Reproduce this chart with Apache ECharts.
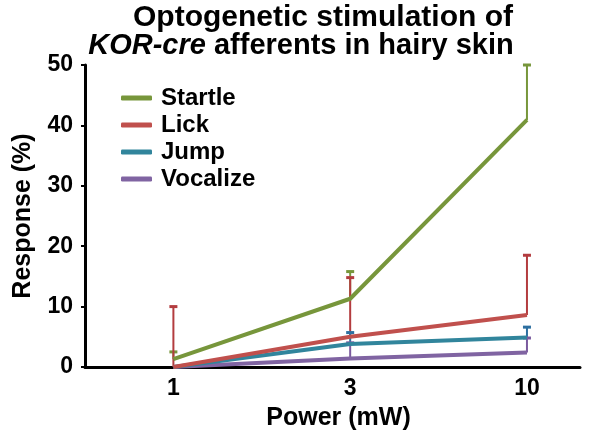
<!DOCTYPE html>
<html><head><meta charset="utf-8">
<script src="https://cdn.jsdelivr.net/npm/echarts@6/dist/echarts.min.js"></script>
<style>html,body{margin:0;padding:0;background:#fff}#c{width:603px;height:437px}</style>
</head><body><div id="c"></div>
<script>
var categories = ['1', '3', '10'];
var seriesNames = ['Startle', 'Lick', 'Jump', 'Vocalize'];
var startle = [1.3, 11.3, 40.9];
var lick = [0, 5.0, 8.6];
var jump = [0, 3.8, 4.9];
var vocalize = [0, 1.4, 2.4];
var startleErr = [1.2, 4.5, 9.1];
var lickErr = [10.0, 9.8, 9.9];
var jumpErr = [0, 1.9, 1.7];
var vocalizeErr = [0, 2.6, 2.4];
var yTicks = [0, 10, 20, 30, 40, 50];

var values = [startle, lick, jump, vocalize];
var errs = [startleErr, lickErr, jumpErr, vocalizeErr];
var colors = ['#77963b', '#c0504d', '#31859c', '#8064a2'];
var errColors = ['#77963b', '#b33c3f', '#2d6fa0', '#7a5a9e'];
var font = 'Liberation Sans, Arial, sans-serif';

var series = [];
values.forEach(function (vals, si) {
  var data = vals.map(function (v, i) { return [i, v, v + errs[si][i]]; }).filter(function (d) { return d[2] > d[1]; });
  series.push({
    type: 'custom',
    name: seriesNames[si] + ' err',
    z: 1,
    silent: true,
    data: data,
    renderItem: function (params, api) {
      var p0 = api.coord([api.value(0), api.value(1)]);
      var p1 = api.coord([api.value(0), api.value(2)]);
      var c = errColors[si];
      return {
        type: 'group',
        children: [
          { type: 'line', shape: { x1: p0[0], y1: p0[1], x2: p1[0], y2: p1[1] }, style: { stroke: c, lineWidth: 2 } },
          { type: 'line', shape: { x1: p1[0] - 4, y1: p1[1], x2: p1[0] + 4, y2: p1[1] }, style: { stroke: c, lineWidth: 3 } }
        ]
      };
    }
  });
});
for (var si = values.length - 1; si >= 0; si--) {
  series.push({
    type: 'line',
    name: seriesNames[si],
    z: 2 + (values.length - si),
    data: values[si].map(function (v, i) { return [i, v]; }),
    symbol: 'none',
    lineStyle: { color: colors[si], width: 4 },
    itemStyle: { color: colors[si] }
  });
}

var chart = echarts.init(document.getElementById('c'), null, { renderer: 'canvas' });
chart.setOption({
  animation: false,
  backgroundColor: '#fff',
  title: [
    { text: 'Optogenetic stimulation of', left: 318, top: -2, textAlign: 'center',
      textStyle: { fontFamily: font, fontWeight: 'bold', fontSize: 30, color: '#000' } },
    { text: '{i|KOR-cre} afferents in hairy skin', left: 296, top: 26, textAlign: 'center',
      textStyle: { fontFamily: font, fontWeight: 'bold', fontSize: 29, color: '#000',
        rich: { i: { fontFamily: font, fontWeight: 'bold', fontStyle: 'italic', fontSize: 29, color: '#000' } } } }
  ],
  legend: {
    data: seriesNames,
    orient: 'vertical',
    left: 116,
    top: 81,
    itemWidth: 31,
    itemHeight: 5,
    itemGap: 3,
    icon: 'roundRect',
    textStyle: { fontFamily: font, fontWeight: 'bold', fontSize: 24, color: '#000', lineHeight: 24, padding: [0, 0, 0, 4] }
  },
  grid: { left: 85, right: 23, top: 65, bottom: 70, containLabel: false },
  xAxis: {
    type: 'value',
    min: -0.5,
    max: 2.3,
    interval: 0.5,
    name: 'Power (mW)',
    nameLocation: 'middle',
    nameGap: 39,
    nameTextStyle: { fontFamily: font, fontWeight: 'bold', fontSize: 25, color: '#000', padding: [0, 0, 0, 12] },
    axisLine: { onZero: false, lineStyle: { color: '#000', width: 3 } },
    axisTick: { show: false },
    splitLine: { show: false },
    axisLabel: {
      margin: 10,
      fontFamily: font, fontWeight: 'bold', fontSize: 23, color: '#000',
      showMaxLabel: false,
      formatter: function (v) {
        var r = Math.round(v);
        return (Math.abs(v - r) < 1e-6 && r >= 0 && r < categories.length) ? categories[r] : '';
      }
    }
  },
  yAxis: {
    type: 'value',
    min: yTicks[0],
    max: yTicks[yTicks.length - 1],
    interval: 10,
    name: 'Response (%)',
    nameLocation: 'middle',
    nameGap: 49,
    nameTextStyle: { fontFamily: font, fontWeight: 'bold', fontSize: 25, color: '#000' },
    axisLine: { show: true, onZero: false, lineStyle: { color: '#000', width: 3 } },
    axisTick: { show: true, length: 4, lineStyle: { color: '#000', width: 2 } },
    splitLine: { show: false },
    axisLabel: { margin: 12, fontFamily: font, fontWeight: 'bold', fontSize: 23, color: '#000' }
  },
  series: series
});
</script></body></html>
